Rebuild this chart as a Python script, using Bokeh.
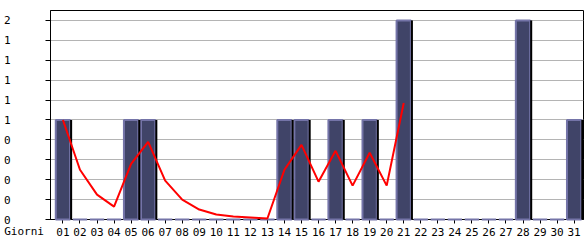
from bokeh.plotting import figure
from bokeh.models import Range1d, FixedTicker, ColumnDataSource
from bokeh.transform import dodge
from bokeh.embed import file_html
from bokeh.resources import INLINE

days = list(range(1, 32))
day_labels = ["%02d" % d for d in days]
visits = [1, 0, 0, 0, 1, 1, 0, 0, 0, 0, 0, 0, 0, 1, 1, 0, 1, 0, 1, 0,
          2, 0, 0, 0, 0, 0, 0, 2, 0, 0, 1]
trend_days = list(range(1, 22))
trend = [1.0, 0.5, 0.25, 0.13, 0.56, 0.78, 0.39, 0.2, 0.1, 0.05, 0.03,
         0.02, 0.01, 0.5, 0.75, 0.38, 0.69, 0.34, 0.67, 0.34, 1.17]
y_ticks = [0, 0.2, 0.4, 0.6, 0.8, 1.0, 1.2, 1.4, 1.6, 1.8, 2.0]
y_tick_labels = ["0", "0", "0", "0", "0", "1", "1", "1", "1", "1", "2"]
x_title = "Giorni"

FONT = "DejaVu Sans Mono"

p = figure(width=585, height=240, output_backend="svg", toolbar_location=None,
           x_range=Range1d(0.27, 31.55), y_range=Range1d(0, 2.1),
           min_border_left=50, min_border_right=2, min_border_top=10,
           min_border_bottom=20)
p.background_fill_color = "white"
p.border_fill_color = "white"
p.outline_line_color = "black"
p.outline_line_width = 1

p.xgrid.visible = False
p.ygrid.ticker = FixedTicker(ticks=y_ticks)
p.ygrid.grid_line_color = "#b4b4b4"
p.ygrid.grid_line_width = 1

src = ColumnDataSource(dict(x=days, top=visits))
p.vbar(x="x", top="top", width=0.84, source=src, fill_color="#404468",
       line_color="#7474a8", line_width=2, level="overlay")
p.vbar(x=dodge("x", 0.48, range=p.x_range), top="top", width=0.12, source=src,
       fill_color="black", line_color=None, level="overlay")

p.line(trend_days, trend, line_color="#ff0000", line_width=2, level="overlay")

xa = p.xaxis[0]
xa.ticker = FixedTicker(ticks=days)
xa.major_label_overrides = {d: l for d, l in zip(days, day_labels)}
xa.major_tick_out = 4
xa.major_tick_in = 0
xa.minor_tick_out = 0
xa.minor_tick_in = 0
xa.major_label_standoff = 4
xa.axis_line_color = "black"
xa.major_tick_line_color = "black"
xa.major_label_text_font = FONT
xa.major_label_text_font_size = "11px"
xa.major_label_text_color = "black"
# label centred on the axis start; trailing no-break spaces push it left
xa.axis_label = x_title + "\u00a0" * 8
xa.axis_label_align = "start"
xa.axis_label_standoff = -14
xa.axis_label_text_font = FONT
xa.axis_label_text_font_size = "11px"
xa.axis_label_text_font_style = "normal"
xa.axis_label_text_color = "black"

ya = p.yaxis[0]
ya.ticker = FixedTicker(ticks=y_ticks)
ya.major_label_overrides = {t: l for t, l in zip(y_ticks, y_tick_labels)}
ya.major_tick_out = 5
ya.major_tick_in = 0
ya.minor_tick_out = 0
ya.minor_tick_in = 0
ya.major_label_standoff = 35
ya.axis_line_color = "black"
ya.major_tick_line_color = "black"
ya.major_label_text_font = FONT
ya.major_label_text_font_size = "11px"
ya.major_label_text_color = "black"

open("out.html", "w").write(file_html(p, INLINE))
